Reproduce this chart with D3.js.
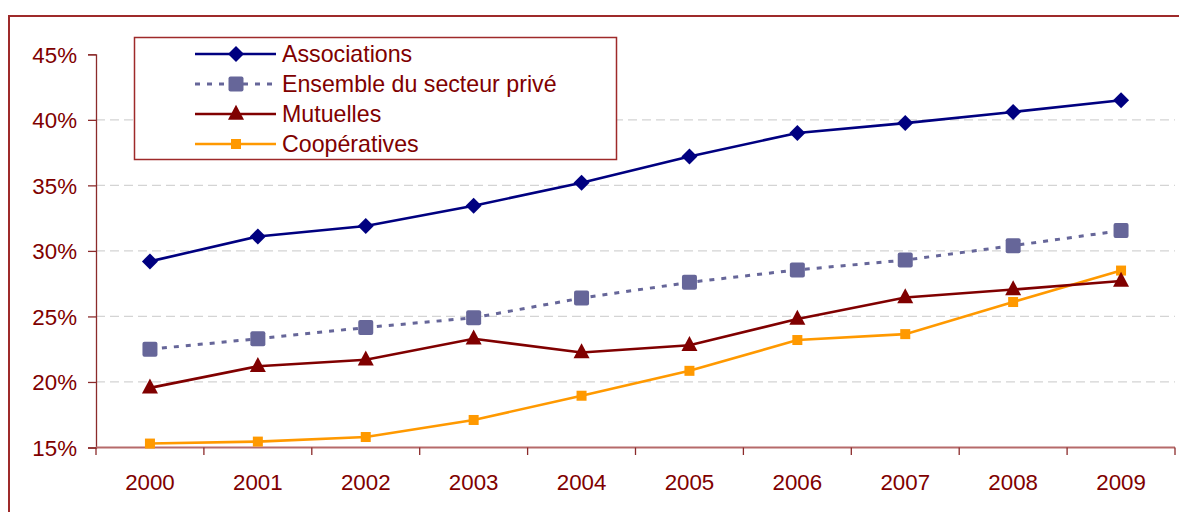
<!DOCTYPE html>
<html><head><meta charset="utf-8">
<script src="https://cdn.jsdelivr.net/npm/d3@7"></script>
<style>
html,body{margin:0;padding:0;background:#fff;}
svg{display:block;font-family:"Liberation Sans",Arial,sans-serif;}
</style></head>
<body><svg id="c" width="1179" height="512"></svg>
<script>
const years = ["2000","2001","2002","2003","2004","2005","2006","2007","2008","2009"];
const associations = [29.2,31.1,31.9,33.45,35.2,37.2,39.0,39.75,40.6,41.5];
const ensemble = [22.5,23.3,24.15,24.9,26.4,27.6,28.55,29.3,30.4,31.55];
const mutuelles = [19.55,21.2,21.7,23.3,22.25,22.8,24.8,26.45,27.05,27.7];
const cooperatives = [15.3,15.45,15.8,17.1,18.95,20.85,23.2,23.65,26.1,28.5];
const yTicks = [15,20,25,30,35,40,45];
const seriesNames = ["Associations","Ensemble du secteur privé","Mutuelles","Coopératives"];

const textColor = "#800000";
const svg = d3.select("#c");

// outer frame
svg.append("path").attr("d","M9,1000 L9,16 L1300,16").attr("fill","none")
  .attr("stroke","#9e2a2a").attr("stroke-width",2);

const x = d3.scaleBand().domain(years).range([96,1175]);
const y = d3.scaleLinear().domain([15,45]).range([447.5,54.3]);

// gridlines
svg.append("g").selectAll("line").data(yTicks.filter(t=>t>15 && t<45)).join("line")
  .attr("x1",96).attr("x2",1175).attr("y1",d=>y(d)).attr("y2",d=>y(d))
  .attr("stroke","#d4d4d4").attr("stroke-width",1.2).attr("stroke-dasharray","9,5");

// y axis
const ya = svg.append("g").attr("transform","translate(96,0)")
  .call(d3.axisLeft(y).tickValues(yTicks).tickFormat(d=>d+"%").tickSizeOuter(0).tickSize(8));
ya.select(".domain").attr("stroke","#8b2b2b").attr("stroke-width",1.3);
ya.selectAll(".tick line").attr("stroke","#8b2b2b").attr("stroke-width",1.3);
ya.selectAll(".tick text").attr("fill",textColor).attr("font-size",22.3)
  .attr("font-family","Liberation Sans, Arial, sans-serif").attr("x",-19).attr("dy","0.36em");

// x axis
const xa = svg.append("g").attr("transform","translate(0,447.5)")
  .call(d3.axisBottom(x).tickSize(0).tickSizeOuter(0));
xa.select(".domain").remove();
xa.selectAll(".tick text").attr("fill",textColor).attr("font-size",22.3)
  .attr("font-family","Liberation Sans, Arial, sans-serif").attr("y",42.5).attr("dy",0);
svg.append("line").attr("x1",96).attr("x2",1175).attr("y1",447.5).attr("y2",447.5)
  .attr("stroke","#b66a6a").attr("stroke-width",2);
const bounds = years.map(d=>x(d)).concat([x.range()[1]]);
svg.append("g").selectAll("line").data(bounds).join("line")
  .attr("x1",d=>d).attr("x2",d=>d).attr("y1",447.5).attr("y2",455)
  .attr("stroke","#8b2b2b").attr("stroke-width",1.3);

const cx = d=>x(d)+x.bandwidth()/2;
const series = [
  {name:seriesNames[0], vals:associations, color:"#000080", dash:null, sym:"dia", size:16, fill:"#000080"},
  {name:seriesNames[1], vals:ensemble, color:"#666699", dash:"5,7", sym:"sq", size:15, fill:"#666699"},
  {name:seriesNames[2], vals:mutuelles, color:"#800000", dash:null, sym:"tri", size:15, fill:"#800000"},
  {name:seriesNames[3], vals:cooperatives, color:"#FF9900", dash:null, sym:"sq", size:10, fill:"#FF9900"}
];

function drawMarker(g, s, px, py){
  if(s.sym==="sq"){
    g.append("rect").attr("x",px-s.size/2).attr("y",py-s.size/2).attr("width",s.size).attr("height",s.size)
      .attr("rx",s.size>12?2:0).attr("fill",s.fill);
  } else if(s.sym==="tri"){
    const w=16,h=15;
    g.append("path").attr("d",`M${px},${py-h*0.62} L${px+w/2},${py+h*0.38} L${px-w/2},${py+h*0.38} Z`).attr("fill",s.fill);
  } else {
    const r=s.size/2;
    g.append("path").attr("d",`M${px},${py-r} L${px+r},${py} L${px},${py+r} L${px-r},${py} Z`).attr("fill",s.fill);
  }
}

const line = d3.line().x((d,i)=>cx(years[i])).y(d=>y(d));
const order=[3,2,1,0];
order.forEach(k=>{
  const s=series[k];
  const g=svg.append("g");
  g.append("path").datum(s.vals).attr("d",line).attr("fill","none").attr("stroke",s.color)
    .attr("stroke-width",s.dash?3:2.6).attr("stroke-dasharray",s.dash);
  s.vals.forEach((v,i)=>drawMarker(g,s,cx(years[i]),y(v)));
});

// legend
const lg = svg.append("g");
lg.append("rect").attr("x",134.5).attr("y",37.5).attr("width",482).attr("height",122)
  .attr("fill","#fff").attr("stroke","#9e2a2a").attr("stroke-width",1.5);
series.forEach((s,i)=>{
  const yy = 54+i*30;
  lg.append("line").attr("x1",195).attr("x2",276).attr("y1",yy).attr("y2",yy)
    .attr("stroke",s.color).attr("stroke-width",s.dash?3:2.6).attr("stroke-dasharray",s.dash);
  drawMarker(lg,s,236,yy);
  lg.append("text").attr("x",282).attr("y",yy+8).attr("fill",textColor).attr("font-size",23.2)
    .text(s.name);
});
</script></body></html>
